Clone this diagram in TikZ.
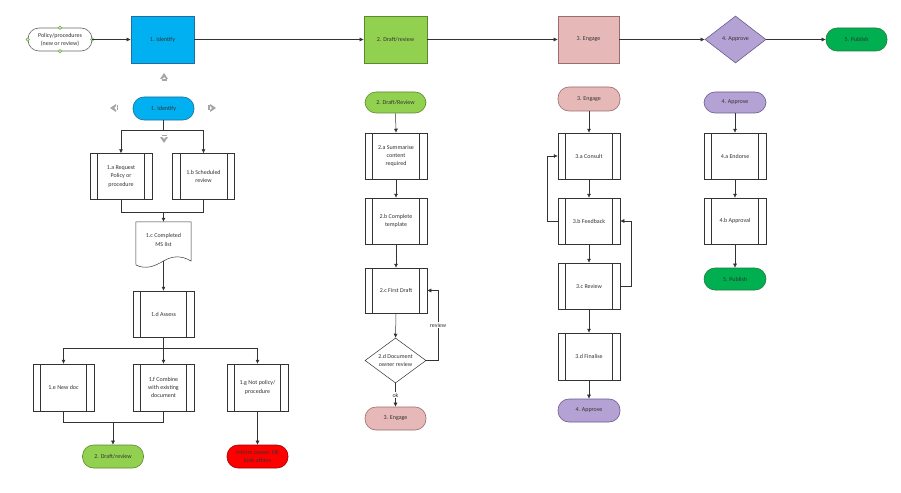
\documentclass[tikz,border=0pt]{standalone}
\usepackage{fontspec}
\setmainfont{Carlito}
\usetikzlibrary{shapes.geometric,arrows.meta,calc}
\definecolor{lc}{HTML}{333333}
\definecolor{cblue}{HTML}{00B0F0}
\definecolor{cbluel}{HTML}{1F6E9E}
\definecolor{cgreen}{HTML}{92D050}
\definecolor{cgreenl}{HTML}{5B8A2E}
\definecolor{cpink}{HTML}{E6B9B8}
\definecolor{cpinkl}{HTML}{9C6B6A}
\definecolor{cpurp}{HTML}{B3A2D3}
\definecolor{cpurpl}{HTML}{6B5B8F}
\definecolor{cdgreen}{HTML}{00B050}
\definecolor{cdgreenl}{HTML}{1E7A3E}
\definecolor{cred}{HTML}{FF0000}
\definecolor{credl}{HTML}{A00000}
\definecolor{cnav}{HTML}{A6A6A6}
\definecolor{cdot}{HTML}{C6EFCE}
\definecolor{cdotl}{HTML}{70AD47}
\tikzset{
  every node/.style={font=\fontsize{6}{8.3}\selectfont, text=lc, align=center, inner sep=1pt},
  arr/.style={draw=lc, line width=0.5pt, -{Latex[length=4pt,width=4pt]}},
  ln/.style={draw=lc, line width=0.5pt},
  predef/.style={draw=lc, line width=0.5pt, fill=white, rectangle, minimum width=62pt, minimum height=46pt,
    path picture={
      \draw[lc, line width=0.5pt] ([xshift=7.5pt]path picture bounding box.north west) -- ([xshift=7.5pt]path picture bounding box.south west);
      \draw[lc, line width=0.5pt] ([xshift=-7.5pt]path picture bounding box.north east) -- ([xshift=-7.5pt]path picture bounding box.south east);}},
  term/.style={rectangle, rounded corners=11pt, minimum width=62pt, minimum height=23pt, line width=0.6pt},
  topbox/.style={rectangle, minimum width=63pt, minimum height=47pt, line width=0.6pt},
  dmd/.style={diamond, aspect=1.33, inner sep=0pt, line width=0.6pt},
  gdot/.style={circle, fill=cdot, draw=cdotl, line width=0.5pt, minimum size=3.5pt, inner sep=0pt},
  lbl/.style={fill=white, inner sep=1pt},
}
\begin{document}
\begin{tikzpicture}[x=1pt,y=-1pt]
\fill[white] (0,0) rectangle (901,492);
\useasboundingbox (0,0) rectangle (901,492);

% ---- top row ----
\node[term, draw=gray!80!black, fill=white, minimum width=64pt] (pol) at (60,39.5) {Policy/procedures\\(new or review)};
\node[gdot] (pd1) at (pol.north) {};
\node[gdot] (pd2) at (pol.south) {};
\node[gdot] (pd3) at (pol.west) {};
\node[gdot] (pd4) at (pol.east) {};
\node[topbox, fill=cblue, draw=cbluel] (b1) at (162.5,39.5) {1. Identify};
\node[topbox, fill=cgreen, draw=cgreenl] (b2) at (395.5,39.5) {2. Draft/review};
\node[topbox, fill=cpink, draw=cpinkl, minimum width=61pt] (b3) at (588.5,39.5) {3. Engage};
\node[dmd, fill=cpurp, draw=cpurpl, minimum width=61pt, minimum height=47pt] (d4) at (735.5,39.5) {4. Approve};
\node[term, fill=cdgreen, draw=cdgreenl, minimum width=61pt] (t5) at (856.5,39.5) {5. Publish};
\draw[arr] (pol.east) -- (b1.west);
\draw[arr] (b1.east) -- (b2.west);
\draw[arr] (b2.east) -- (b3.west);
\draw[arr] (b3.east) -- (d4.west);
\draw[arr] (d4.east) -- (t5.west);

% ---- column 1 ----
\node[term, fill=cblue, draw=cbluel, minimum width=61pt] (t1) at (163.5,108.5) {1. Identify};
% navigation arrows
\fill[cnav] (160,79) -- (164,73) -- (168,79) -- (166,79) -- (164,77) -- (162,79) -- cycle;
\fill[cnav] (161.5,79.5) rectangle (166.5,81);
\fill[cnav] (116,104) -- (110,108) -- (116,112) -- (116,110) -- (114,108) -- (116,106) -- cycle;
\fill[cnav] (116.5,105.5) rectangle (118,110.5);
\fill[cnav] (210,104) -- (216,108) -- (210,112) -- (210,110) -- (212,108) -- (210,106) -- cycle;
\fill[cnav] (208,105.5) rectangle (209.5,110.5);
\fill[cnav] (160,137) -- (164,143) -- (168,137) -- (166,137) -- (164,139) -- (162,137) -- cycle;
\fill[cnav] (161.5,134.5) rectangle (166.5,136);

\node[predef] (b1a) at (121,176.5) {1.a Request\\Policy or\\procedure};
\node[predef] (b1b) at (203.5,176.5) {1.b Scheduled\\review};
\coordinate (s1) at (163.5,130);
\draw[ln] (t1.south) -- (s1);
\draw[arr] (s1) -| (b1a.north);
\draw[arr] (s1) -| (b1b.north);
\coordinate (j1) at (163.5,212);
\draw[ln] (b1a.south) |- (j1);
\draw[ln] (b1b.south) |- (j1);

\node[minimum width=55pt, minimum height=36pt] (doc) at (163.5,240) {1.c Completed\\MS list};
\draw[ln, fill=white] (doc.north west) -- (doc.north east) -- (191,261)
  .. controls (181,255) and (172,256) .. (163.5,261)
  .. controls (155,266) and (146,270) .. (136,265) -- cycle;
\node at (163.5,240) {1.c Completed\\MS list};
\draw[arr] (j1) -- (doc.north);
\coordinate (docb) at (163.5,261);
\node[predef, minimum width=61pt] (b1d) at (163.5,314) {1.d Assess};
\draw[arr] (docb) -- (b1d.north);

\coordinate (s2) at (163.5,348);
\node[predef, minimum width=61pt, minimum height=47pt] (b1e) at (63.5,387.5) {1.e New doc};
\node[predef, minimum width=61pt, minimum height=47pt] (b1f) at (163.5,387.5) {1.f Combine\\with existing\\document};
\node[predef, minimum width=61pt, minimum height=47pt] (b1g) at (257.5,387.5) {1.g Not policy/\\procedure};
\draw[ln] (b1d.south) -- (s2);
\draw[arr] (s2) -| (b1e.north);
\draw[arr] (s2) -- (b1f.north);
\draw[arr] (s2) -| (b1g.north);
\coordinate (j3) at (113,422);
\node[term, fill=cgreen, draw=cgreenl, minimum width=61pt] (t2l) at (113,456.5) {2. Draft/review};
\node[term, fill=cred, draw=credl, minimum width=61pt] (tred) at (257.5,456.5) {Inform owner. NF\\look others};
\draw[ln] (b1e.south) |- (j3);
\draw[ln] (b1f.south) |- (j3);
\draw[arr] (j3) -- (t2l.north);
\draw[arr] (b1g.south) -- (tred.north);

% ---- column 2 ----
\node[term, fill=cgreen, draw=cgreenl, minimum width=61pt, minimum height=21pt] (t2) at (395.5,102.5) {2. Draft/Review};
\node[predef] (b2a) at (396,156) {2.a Summarise\\content\\required};
\node[predef] (b2b) at (396,221) {2.b Complete\\template};
\node[predef, minimum height=45pt] (b2c) at (396,290.5) {2.c First Draft};
\node[dmd, fill=white, draw=lc, line width=0.5pt, minimum width=61pt, minimum height=45pt] (d2) at (395.5,360.5) {2.d Document\\owner review};
\node[term, fill=cpink, draw=cpinkl, minimum width=61pt] (t3) at (395.5,418.5) {3. Engage};
\draw[arr] (t2.south) -- (b2a.north);
\draw[arr] (b2a.south) -- (b2b.north);
\draw[arr] (b2b.south) -- (b2c.north);
\draw[arr] (b2c.south) -- (d2.north);
\coordinate (rv) at (438,360.5);
\draw[arr] (d2.east) -- (rv) |- (b2c.east);
\node[lbl] (rvl) at (438,325) {review};
\draw[arr] (d2.south) -- (t3.north);
\node[lbl] (okl) at (395.5,395) {ok};

% ---- column 3 ----
\node[term, fill=cpink, draw=cpinkl, minimum width=62pt, minimum height=24pt] (t3e) at (589,99) {3. Engage};
\node[predef] (b3a) at (589,156) {3.a Consult};
\node[predef] (b3b) at (589,221) {3.b Feedback};
\node[predef] (b3c) at (589,286) {3.c Review};
\node[predef, minimum height=47pt] (b3d) at (589,356.5) {3.d Finalise};
\node[term, fill=cpurp, draw=cpurpl, minimum width=62pt] (t4) at (589,410.5) {4. Approve};
\draw[arr] (t3e.south) -- (b3a.north);
\draw[arr] (b3a.south) -- (b3b.north);
\draw[arr] (b3b.south) -- (b3c.north);
\draw[arr] (b3c.south) -- (b3d.north);
\draw[arr] (b3d.south) -- (t4.north);
\coordinate (l1) at (547,221);
\draw[arr] (b3b.west) -- (l1) |- (b3a.west);
\coordinate (l2) at (631,286);
\draw[arr] (b3c.east) -- (l2) |- (b3b.east);

% ---- column 4 ----
\node[term, fill=cpurp, draw=cpurpl, minimum width=62pt, minimum height=21pt] (t4b) at (735,102.5) {4. Approve};
\node[predef] (b4a) at (735,156) {4.a Endorse};
\node[predef] (b4b) at (735,221) {4.b Approval};
\node[term, fill=cdgreen, draw=cdgreenl, minimum width=62pt, minimum height=22pt] (t5b) at (735,279) {5. Publish};
\draw[arr] (t4b.south) -- (b4a.north);
\draw[arr] (b4a.south) -- (b4b.north);
\draw[arr] (b4b.south) -- (t5b.north);
\end{tikzpicture}
\end{document}
